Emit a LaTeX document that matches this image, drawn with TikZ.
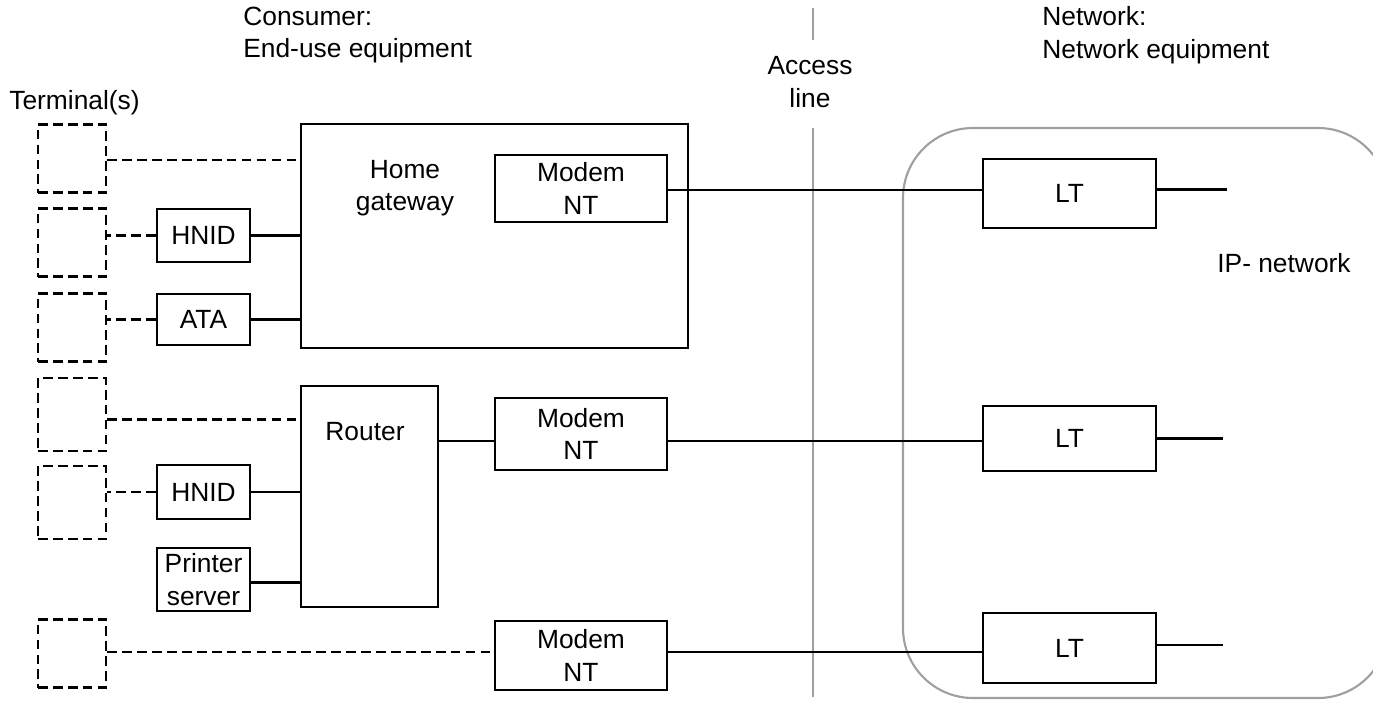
\documentclass[tikz,border=0pt]{standalone}
\usepackage{fontspec}
\setmainfont{Liberation Sans}
\usetikzlibrary{positioning,calc}

\begin{document}
\begin{tikzpicture}[x=0.02cm, y=-0.02cm,
    every node/.style={font=\fontsize{15}{18.5}\selectfont, align=center, inner sep=0pt},
    term/.style={draw, line width=1.5pt, dash pattern=on 5.5pt off 3pt, minimum width=1.36cm, minimum height=1.36cm},
    unitbox/.style={draw, line width=1.6pt, minimum width=1.86cm},
    link/.style={line width=1.6pt},
    dlink/.style={line width=1.5pt, dash pattern=on 5.5pt off 3pt},
    gline/.style={draw=gray!75, line width=1.2pt}]
  \clip (0,0) rectangle (1373,701);

  % headings
  \node[anchor=west, align=left] (consumer) at (243,35) {Consumer:\\End-use equipment};
  \node (access) at (810,82) {Access\\line};
  \node[anchor=west, align=left] (network) at (1042,35) {Network:\\Network equipment};
  \node[anchor=west] (termlbl) at (9,103) {Terminal(s)};
  \node[anchor=west] (iplbl) at (1217,263) {IP- network};

  % access line and IP network
  \draw[gline] (813,8) -- (813,40);
  \draw[gline] (813,128) -- (813,697);
  \draw[gline, rounded corners=1.4cm] (903,128) rectangle (1388,698);

  % terminals
  \node[term] (t1) at (72,158.5) {};
  \node[term] (t2) at (72,242.5) {};
  \node[term] (t3) at (72,327.5) {};
  \node[term, minimum height=1.46cm] (t4) at (72,414.5) {};
  \node[term, minimum height=1.46cm] (t5) at (72,502.5) {};
  \node[term] (t6) at (72,653.5) {};

  % home gateway
  \node[unitbox, minimum width=7.74cm, minimum height=4.48cm] (hg) at (494.5,236) {};
  \node (hglbl) at (405,188) {Home\\gateway};
  \node[unitbox, minimum width=3.44cm, minimum height=1.34cm] (modema) at (581,188.5) {Modem\\NT};
  \node[unitbox, minimum height=1.06cm] (hnida) at (203.5,235.5) {HNID};
  \node[unitbox, minimum height=1.02cm] (ata) at (203.5,319.5) {ATA};

  % router
  \node[unitbox, minimum width=2.74cm, minimum height=4.42cm] (router) at (369.5,496.5) {};
  \node (routerlbl) at (365,432) {Router};
  \node[unitbox, minimum width=3.44cm, minimum height=1.44cm] (modemb) at (581,434) {Modem\\NT};
  \node[unitbox, minimum height=1.08cm] (hnidb) at (203.5,492) {HNID};
  \node[unitbox, minimum height=1.26cm] (printer) at (203.5,579.5) {Printer\\server};

  % direct modem
  \node[unitbox, minimum width=3.44cm, minimum height=1.38cm] (modemc) at (581,655.5) {Modem\\NT};

  % line terminations
  \node[unitbox, minimum width=3.46cm, minimum height=1.38cm] (lta) at (1069.5,193.5) {LT};
  \node[unitbox, minimum width=3.46cm, minimum height=1.30cm] (ltb) at (1069.5,438.5) {LT};
  \node[unitbox, minimum width=3.46cm, minimum height=1.40cm] (ltc) at (1069.5,648) {LT};

  % connections
  \draw[dlink] (t1.east) ++(0,1.5) coordinate (c1) -- (c1 -| hg.west);
  \draw[dlink] (hnida.west) -- (hnida.west -| t2.east);
  \draw[link] (hnida.east) -- (hnida.east -| hg.west);
  \draw[dlink] (ata.west) -- (ata.west -| t3.east);
  \draw[link] (ata.east) -- (ata.east -| hg.west);
  \draw[dlink] (t4.east) ++(0,5) coordinate (c4) -- (c4 -| router.west);
  \draw[dlink] (hnidb.west) -- (hnidb.west -| t5.east);
  \draw[link] (hnidb.east) -- (hnidb.east -| router.west);
  \draw[link] (printer.east) ++(0,3) coordinate (cp) -- (cp -| router.west);
  \draw[dlink] (t6.east) ++(0,-1.5) coordinate (c6) -- (c6 -| modemc.west);
  \draw[link] (modemb.west) ++(0,7) coordinate (cr) -- (cr -| router.east);

  \draw[link] (modema.east) ++(0,1.5) coordinate (ma) -- (ma -| lta.west);
  \draw[link] (modemb.east) ++(0,7) coordinate (mb) -- (mb -| ltb.west);
  \draw[link] (modemc.east) ++(0,-3.5) coordinate (mc) -- (mc -| ltc.west);

  \draw[link] (lta.east) ++(0,-4) -- ++(70,0);
  \draw[link] (ltb.east) -- ++(66,0);
  \draw[link] (ltc.east) ++(0,-3) -- ++(66,0);
\end{tikzpicture}
\end{document}
